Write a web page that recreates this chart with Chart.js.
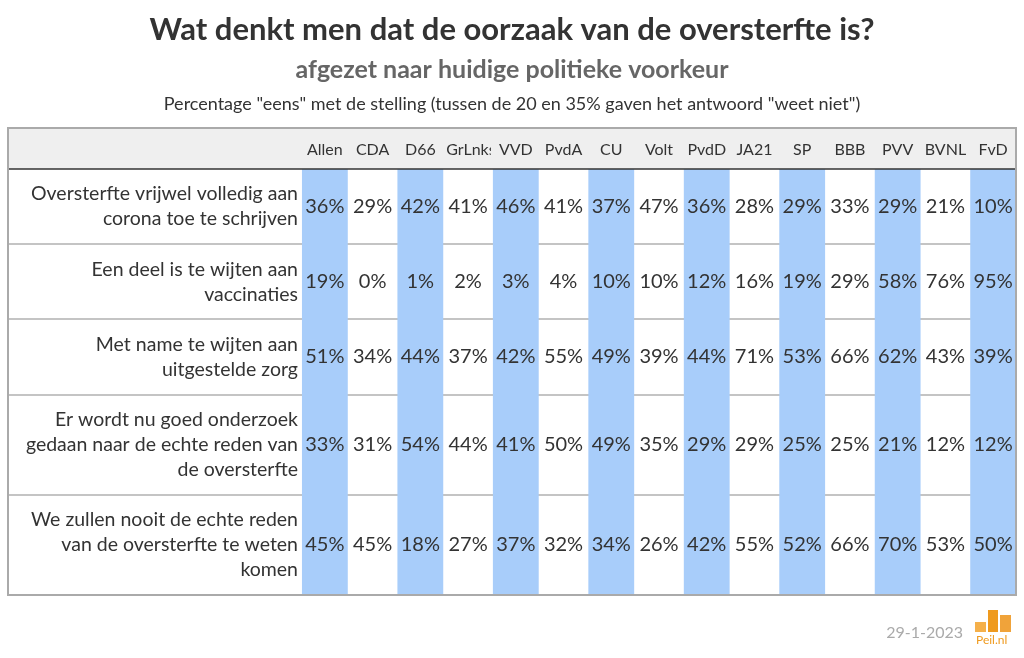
<!DOCTYPE html>
<html>
<head>
<meta charset="utf-8">
<script src="https://cdn.jsdelivr.net/npm/chart.js@4.4.0/dist/chart.umd.min.js"></script>
<style>
  html, body { margin: 0; padding: 0; background: #fff; }
  canvas { display: block; }
</style>
</head>
<body>
<canvas id="chart" width="1024" height="658"></canvas>
<script>
// --- data ---
const parties = ['Allen', 'CDA', 'D66', 'GrLnks', 'VVD', 'PvdA', 'CU', 'Volt', 'PvdD', 'JA21', 'SP', 'BBB', 'PVV', 'BVNL', 'FvD'];

const statements = [
    ['Oversterfte vrijwel volledig aan', 'corona toe te schrijven'],
    ['Een deel is te wijten aan', 'vaccinaties'],
    ['Met name te wijten aan', 'uitgestelde zorg'],
    ['Er wordt nu goed onderzoek', 'gedaan naar de echte reden van', 'de oversterfte'],
    ['We zullen nooit de echte reden', 'van de oversterfte te weten', 'komen']
];

const rowCorona = [36, 29, 42, 41, 46, 41, 37, 47, 36, 28, 29, 33, 29, 21, 10];
const rowVaccin = [19, 0, 1, 2, 3, 4, 10, 10, 12, 16, 19, 29, 58, 76, 95];
const rowZorg = [51, 34, 44, 37, 42, 55, 49, 39, 44, 71, 53, 66, 62, 43, 39];
const rowOnderzoek = [33, 31, 54, 44, 41, 50, 49, 35, 29, 29, 25, 25, 21, 12, 12];
const rowNooit = [45, 45, 18, 27, 37, 32, 34, 26, 42, 55, 52, 66, 70, 53, 50];
const rows = [rowCorona, rowVaccin, rowZorg, rowOnderzoek, rowNooit];

const titleText = 'Wat denkt men dat de oorzaak van de oversterfte is?';
const subtitleText = 'afgezet naar huidige politieke voorkeur';
const noteText = 'Percentage "eens" met de stelling (tussen de 20 en 35% gaven het antwoord "weet niet")';
const dateText = '29-1-2023';

// --- layout / style ---
const FONT = 'Lato, "Open Sans", sans-serif';
const TABLE_LEFT = 8;
const TABLE_RIGHT = 1016;
const HEADER_TOP = 128;
const LINE_H = 25;
const BLUE = '#a8cdfa';

// row heights in "line units": label lines + 1
const rowUnits = statements.map(s => s.length + 1);
const rowStart = [];
rowUnits.reduce((acc, u, i) => { rowStart[i] = acc; return acc + u; }, 0);
const totalUnits = rowUnits.reduce((a, b) => a + b, 0);

const tablePlugin = {
    id: 'table',
    beforeDatasetsDraw(chart) {
        const { ctx, chartArea, scales: { y } } = chart;
        ctx.save();
        // header band
        ctx.fillStyle = '#efefef';
        ctx.fillRect(TABLE_LEFT, HEADER_TOP, TABLE_RIGHT - TABLE_LEFT, chartArea.top - HEADER_TOP);
        // row separators
        ctx.strokeStyle = '#c4c4c4';
        ctx.lineWidth = 2;
        for (let i = 1; i < rows.length; i++) {
            const py = Math.round(y.getPixelForValue(rowStart[i]));
            ctx.beginPath();
            ctx.moveTo(TABLE_LEFT, py);
            ctx.lineTo(TABLE_RIGHT, py);
            ctx.stroke();
        }
        ctx.restore();
    },
    afterDatasetsDraw(chart) {
        const { ctx, chartArea, scales: { x, y } } = chart;
        const colW = x.getPixelForValue(1) - x.getPixelForValue(0);
        ctx.save();

        // header line
        ctx.strokeStyle = '#333';
        ctx.lineWidth = 1.5;
        ctx.beginPath();
        ctx.moveTo(TABLE_LEFT, chartArea.top);
        ctx.lineTo(TABLE_RIGHT, chartArea.top);
        ctx.stroke();

        // party headers, clipped to their column
        ctx.font = '16px ' + FONT;
        ctx.fillStyle = '#333';
        ctx.textAlign = 'center';
        ctx.textBaseline = 'middle';
        parties.forEach((p, i) => {
            const cx = x.getPixelForValue(i);
            ctx.save();
            ctx.beginPath();
            ctx.rect(cx - colW / 2 + 1, HEADER_TOP, colW - 2, chartArea.top - HEADER_TOP);
            ctx.clip();
            const w = ctx.measureText(p).width;
            if (w > colW - 4) {
                ctx.textAlign = 'left';
                ctx.fillText(p, cx - colW / 2 + 2, (HEADER_TOP + chartArea.top) / 2 + 1);
            } else {
                ctx.fillText(p, cx, (HEADER_TOP + chartArea.top) / 2 + 1);
            }
            ctx.restore();
        });

        // values and row labels
        ctx.fillStyle = '#333';
        rows.forEach((vals, r) => {
            const cy = y.getPixelForValue(rowStart[r] + rowUnits[r] / 2);
            ctx.font = '20px ' + FONT;
            ctx.textAlign = 'center';
            vals.forEach((v, i) => {
                ctx.fillText(v + '%', x.getPixelForValue(i), cy);
            });
            const lines = statements[r];
            ctx.font = '19.5px ' + FONT;
            ctx.textAlign = 'right';
            lines.forEach((ln, k) => {
                const ly = cy + (k - (lines.length - 1) / 2) * LINE_H;
                ctx.fillText(ln, chartArea.left - 3, ly);
            });
        });

        // outer border
        ctx.strokeStyle = '#aaa';
        ctx.lineWidth = 2;
        ctx.strokeRect(TABLE_LEFT, HEADER_TOP, TABLE_RIGHT - TABLE_LEFT, chartArea.bottom - HEADER_TOP);
        ctx.restore();
    },
    afterDraw(chart) {
        const { ctx } = chart;
        const W = chart.width;
        ctx.save();
        ctx.textAlign = 'center';
        ctx.textBaseline = 'middle';
        ctx.fillStyle = '#333';
        ctx.font = 'bold 31px ' + FONT;
        ctx.fillText(titleText, W / 2, 30);
        ctx.fillStyle = '#666';
        ctx.font = 'bold 25px ' + FONT;
        ctx.fillText(subtitleText, W / 2, 70);
        ctx.fillStyle = '#333';
        ctx.font = '18px ' + FONT;
        ctx.fillText(noteText, W / 2, 104);

        // date + logo
        ctx.fillStyle = '#aaa';
        ctx.font = '16px ' + FONT;
        ctx.textAlign = 'right';
        ctx.fillText(dateText, 963, 633);
        ctx.fillStyle = '#f5b04a';
        ctx.fillRect(975, 622, 11, 10);
        ctx.fillStyle = '#ef9a1e';
        ctx.fillRect(988, 610, 10, 22);
        ctx.fillStyle = '#f0a33a';
        ctx.fillRect(1000, 615, 11, 17);
        ctx.fillStyle = '#ef9a1e';
        ctx.font = '12px ' + FONT;
        ctx.textAlign = 'left';
        ctx.fillText('Peil.nl', 976, 640);
        ctx.restore();
    }
};

new Chart(document.getElementById('chart'), {
    type: 'bar',
    data: {
        labels: parties,
        datasets: [{
            data: parties.map((p, i) => (i % 2 === 0 ? [0, totalUnits] : null)),
            backgroundColor: BLUE,
            borderWidth: 0,
            categoryPercentage: 1,
            barPercentage: 0.96
        }]
    },
    options: {
        responsive: false,
        animation: false,
        events: [],
        layout: {
            padding: { left: 301, right: 1024 - TABLE_RIGHT - 1, top: 169, bottom: 658 - 595 }
        },
        plugins: {
            legend: { display: false },
            tooltip: { enabled: false },
            title: { display: false }
        },
        scales: {
            x: { display: false },
            y: { display: false, min: 0, max: totalUnits, reverse: true }
        }
    },
    plugins: [tablePlugin]
});
</script>
</body>
</html>
